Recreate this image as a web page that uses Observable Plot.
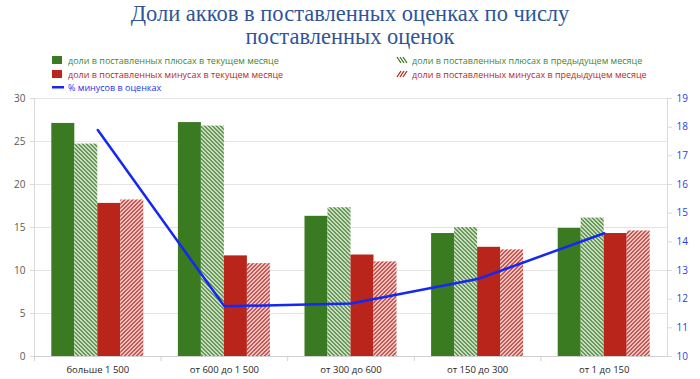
<!DOCTYPE html>
<html>
<head>
<meta charset="utf-8">
<script src="https://cdn.jsdelivr.net/npm/d3@7"></script>
<script src="https://cdn.jsdelivr.net/npm/@observablehq/plot@0.6"></script>
<style>
  html, body { margin: 0; padding: 0; background: #fff; overflow: hidden; }
  #wrap { position: relative; width: 700px; height: 379px; }
  #title { position: absolute; left: 0; top: 2px; width: 700px; text-align: center; z-index: 2;
    font-family: "Liberation Serif", serif; font-size: 22.5px; line-height: 23px; color: #2f5597; }
  #legend { position: absolute; left: 0; top: 0; z-index: 2; }
  .leg { position: absolute; font-family: "Open Sans", sans-serif; font-size: 9px; line-height: 12px; white-space: nowrap; }
  .leg svg { position: absolute; left: -16px; top: 1px; }
  #chart { position: absolute; left: 0; top: 90px; z-index: 1; }
</style>
</head>
<body>
<div id="wrap">
  <div id="chart"></div>
  <div id="title">Доли акков в поставленных оценках по числу<br>поставленных оценок</div>
  <div id="legend"></div>
</div>
<script>
const categories = ["больше 1 500", "от 600 до 1 500", "от 300 до 600", "от 150 до 300", "от 1 до 150"];
const plusCurrent = [27.1, 27.2, 16.3, 14.3, 14.9];
const plusPrevious = [24.7, 26.8, 17.3, 15.0, 16.1];
const minusCurrent = [17.8, 11.7, 11.8, 12.7, 14.3];
const minusPrevious = [18.2, 10.8, 11.0, 12.4, 14.6];
const minusPercent = [17.9, 11.75, 11.85, 12.7, 14.3];
const leftTicks = [0, 5, 10, 15, 20, 25, 30];
const rightTicks = [10, 11, 12, 13, 14, 15, 16, 17, 18, 19];
const seriesNames = [
  "доли в поставленных плюсах в текущем месяце",
  "доли в поставленных плюсах в предыдущем месяце",
  "доли в поставленных минусах в текущем месяце",
  "доли в поставленных минусах в предыдущем месяце",
  "% минусов в оценках"
];

const GREEN = "#3a7b22", RED = "#b9251b", BLUE = "#1428f2";

const rows = categories.map((c, i) => ({
  cat: c, pc: plusCurrent[i], pp: plusPrevious[i], mc: minusCurrent[i], mp: minusPrevious[i], pct: minusPercent[i]
}));

const W = 700, H = 289, ML = 34, MR = 33, MT = 8, MB = 23;
const step = (W - ML - MR) / categories.length;
const bw = 23;
const pInner = 1 - bw / step;
const y2 = d3.scaleLinear([10, 19], [0, 30]);

const svg = Plot.plot({
  width: W, height: H,
  marginLeft: ML, marginRight: MR, marginTop: MT, marginBottom: MB,
  style: { fontFamily: "Open Sans, sans-serif", fontSize: "9.5px", background: "transparent", overflow: "visible" },
  x: { domain: categories, paddingInner: pInner, paddingOuter: pInner / 2, round: false, axis: null },
  y: { domain: [0, 30], axis: null },
  marks: [
    Plot.gridY(leftTicks.filter(d => d > 0), { stroke: "#e4e4e4", strokeOpacity: 1 }),
    Plot.frame({ anchor: "left", stroke: "#d9d9d9" }),
    Plot.frame({ anchor: "right", stroke: "#d9d9d9" }),
    Plot.barY(rows, { x: "cat", y: "pc", fill: GREEN, dx: -1.5 * bw }),
    Plot.barY(rows, { x: "cat", y: "pp", fill: "url(#hatchG)", dx: -0.5 * bw }),
    Plot.barY(rows, { x: "cat", y: "mc", fill: RED, dx: 0.5 * bw }),
    Plot.barY(rows, { x: "cat", y: "mp", fill: "url(#hatchR)", dx: 1.5 * bw }),
    Plot.ruleY([0], { stroke: "#cfcfcf" }),
    Plot.line(rows, { x: "cat", y: d => y2(d.pct), curve: "linear", stroke: BLUE, strokeWidth: 2.5 }),
    Plot.axisY(leftTicks, { anchor: "left", tickSize: 4, tickPadding: 5, stroke: "#d9d9d9", fill: "#595959", fontSize: 10, label: null }),
    Plot.axisY(rightTicks, { anchor: "right", y: y2, tickFormat: d => d, tickSize: 4, tickPadding: 5, stroke: "#d9d9d9", fill: "#2a3cf0", fontSize: 10, label: null }),
    Plot.axisX({ tickSize: 0, tickPadding: 10, fill: "#262626", fontSize: 9.5, label: null }),
    Plot.axisX({ tickSize: 5, tickFormat: () => "", dx: -step / 2, stroke: "#d0d0d0", label: null })
  ]
});

svg.insertAdjacentHTML("afterbegin", `
<defs>
  <pattern id="hatchG" patternUnits="userSpaceOnUse" width="4" height="4">
    <rect width="4" height="4" fill="white"/>
    <path d="M-1,-1 L5,5 M-1,3 L1,5 M3,-1 L5,1" stroke="${GREEN}" stroke-width="1.5"/>
  </pattern>
  <pattern id="hatchR" patternUnits="userSpaceOnUse" width="4" height="4">
    <rect width="4" height="4" fill="white"/>
    <path d="M-1,5 L5,-1 M-1,1 L1,-1 M3,5 L5,3" stroke="${RED}" stroke-width="1.5"/>
  </pattern>
</defs>`);
document.getElementById("chart").appendChild(svg);

// legend
const legendItems = [
  { name: seriesNames[0], x: 68, y: 55, swatch: `<rect width="10" height="8" fill="${GREEN}"/>`, textColor: "#3f8a2c" },
  { name: seriesNames[2], x: 68, y: 69, swatch: `<rect width="10" height="8" fill="${RED}"/>`, textColor: "#bb2a20" },
  { name: seriesNames[4], x: 68, y: 82, swatch: `<rect y="3" width="12" height="2.5" fill="${BLUE}"/>`, textColor: "#2233ee" },
  { name: seriesNames[1], x: 412, y: 55, swatch: `<path d="M1,1 L5,7 M4,1 L8,7 M7,1 L11,7" stroke="${GREEN}" stroke-width="1.3"/>`, textColor: "#3f8a2c" },
  { name: seriesNames[3], x: 412, y: 69, swatch: `<path d="M1,7 L5,1 M4,7 L8,1 M7,7 L11,1" stroke="${RED}" stroke-width="1.3"/>`, textColor: "#bb2a20" }
];
const leg = document.getElementById("legend");
for (const it of legendItems) {
  const d = document.createElement("div");
  d.className = "leg";
  d.style.left = it.x + "px";
  d.style.top = it.y + "px";
  d.style.color = it.textColor;
  d.innerHTML = `<svg width="12" height="9">${it.swatch}</svg>${it.name}`;
  leg.appendChild(d);
}
</script>
</body>
</html>
